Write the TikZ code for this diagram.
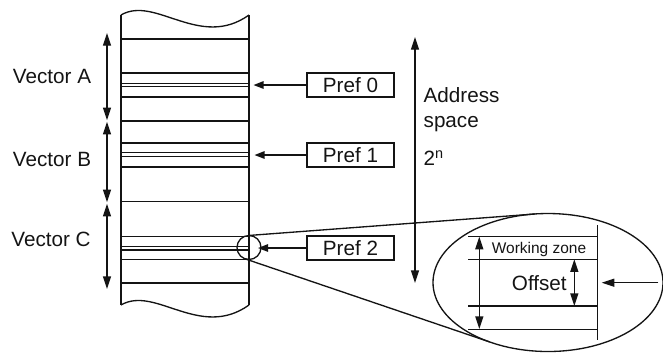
\documentclass[tikz,border=0pt]{standalone}
\usepackage{fontspec}
\setmainfont{Liberation Sans}
\usetikzlibrary{arrows.meta,positioning,calc}
\definecolor{Ink}{HTML}{141414}

\begin{document}
\begin{tikzpicture}[x=0.75pt,y=-0.75pt,line width=1pt,draw=Ink,
  >={Triangle[length=9.5pt,width=6pt]},
  prefarrow/.style={-{Triangle[length=7.5pt,width=5.6pt]}},
  lbl/.style={font=\fontsize{15.5}{18}\selectfont,text=Ink,inner sep=0pt,anchor=base},
  prefbox/.style={draw=Ink,line width=1pt,minimum width=65.25pt,minimum height=18pt,inner sep=0pt,font=\fontsize{15.5}{18}\selectfont,text=Ink}]
\useasboundingbox (0,0) rectangle (663,355);
% memory column with torn ends
\draw (121,15) .. controls (155,-5) and (200,50) .. (249,15);
\draw (121,305) .. controls (155,285) and (200,340) .. (249,305);
\draw (121,15) -- (121,305);
\draw (249,15) -- (249,305);
\foreach \y in {39,73,83.8,86.8,97,121,143,152.4,156.6,167,201.5,236.6,246.7,250,259.4,283}
  \draw (121,\y) -- (249,\y);
% vector extents
\coordinate (vAtop) at (107,33);
\coordinate (vAbot) at (107,120.3);
\coordinate (vBtop) at (107,121.7);
\coordinate (vBbot) at (107,202.3);
\coordinate (vCtop) at (107,203.7);
\coordinate (vCbot) at (107,289);
\draw[<->] (vAtop) -- (vAbot);
\draw[<->] (vBtop) -- (vBbot);
\draw[<->] (vCtop) -- (vCbot);
\node[lbl] (vecA) at (52,83) {Vector A};
\node[lbl] (vecB) at (52,166) {Vector B};
\node[lbl] (vecC) at (51,246) {Vector C};
% pointers
\node[prefbox] (pref0) at (350.5,85) {Pref 0};
\node[prefbox] (pref1) at (350.5,155) {Pref 1};
\node[prefbox] (pref2) at (350.5,248) {Pref 2};
\coordinate (hit0) at (253.5,85);
\coordinate (hit1) at (254.5,155);
\coordinate (hit2) at (258,248);
\draw[prefarrow] (pref0.west) -- (hit0);
\draw[prefarrow] (pref1.west) -- (hit1);
\draw[prefarrow] (pref2.west) -- (hit2);
% address space
\coordinate (adrtop) at (415,37);
\coordinate (adrbot) at (415,283);
\draw[<->] (adrtop) -- (adrbot);
\node[lbl,anchor=base west] (adr) at (423,102) {Address};
\node[lbl,anchor=base west] (spc) at (423,127) {space};
\node[lbl,anchor=base west] (pow) at (423,165) {2\textsuperscript{n}};
% magnified detail
\draw (249,247.5) circle [radius=9pt];
\coordinate (lensT) at (248.2,235.5);
\coordinate (lensB) at (245,258.8);
\coordinate (bigT) at (534.8,214);
\coordinate (bigB) at (489.6,341.9);
\draw (lensT) -- (bigT);
\draw (lensB) -- (bigB);
\draw (548,282.5) ellipse [x radius=86.25pt, y radius=51.75pt];
\draw (597.7,225) -- (597.7,340);
\foreach \y in {236.7,259.3,306,329.3}
  \draw (468.3,\y) -- (597.7,\y);
\coordinate (wztop) at (479.3,236.7);
\coordinate (wzbot) at (479.3,329);
\coordinate (offtop) at (574.3,259.3);
\coordinate (offbot) at (574.3,306);
\draw[<->] (wztop) -- (wzbot);
\draw[<->] (offtop) -- (offbot);
\node[lbl,font=\fontsize{11.6}{14}\selectfont] (wz) at (539,253.3) {Working zone};
\node[lbl] (off) at (539.3,290) {Offset};
\coordinate (inS) at (658.3,282.7);
\coordinate (inE) at (601.7,282.7);
\draw[->] (inS) -- (inE);
\end{tikzpicture}
\end{document}
